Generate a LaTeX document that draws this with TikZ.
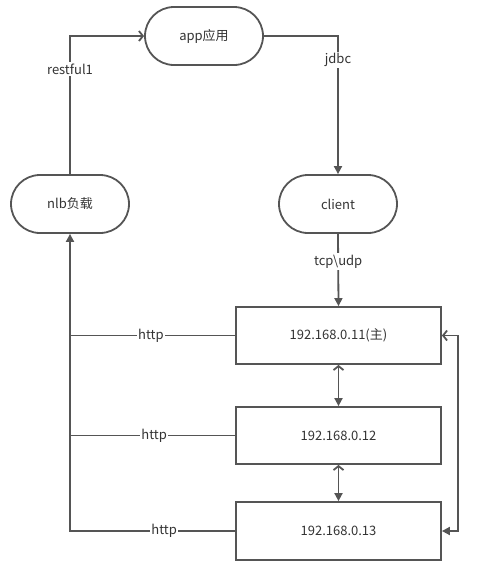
\documentclass[tikz,border=0pt]{standalone}
\usepackage{fontspec}
\setmainfont{Noto Sans CJK SC}
\usetikzlibrary{arrows.meta}
\definecolor{lc}{HTML}{555555}
\definecolor{tc}{HTML}{333333}
\newcommand{\fs}{\fontsize{13}{15}\selectfont}
\begin{document}
\begin{tikzpicture}[x=1pt,y=-1pt,
  line/.style={draw=lc, line width=1.8pt},
  pill/.style={draw=lc, line width=1.8pt, rounded corners=29pt, minimum width=118pt, minimum height=58pt, text=tc, font=\fs},
  box/.style={draw=lc, line width=1.8pt, minimum width=205pt, minimum height=57pt, text=tc, font=\fs},
  lab/.style={fill=white, text=tc, font=\fs, inner sep=1.5pt},
  ftip/.tip={Triangle[length=8pt,width=8pt]},
  otip/.tip={Straight Barb[length=4pt,width=10pt]}]
\useasboundingbox (0,0) rectangle (491,576);
\node[pill] (app) at (204,36) {app应用};
\node[pill] (nlb) at (70,204) {nlb负载};
\node[pill] (client) at (338,204) {client};
\node[box] (b1) at (338.5,335.5) {192.168.0.11(主)};
\node[box] (b2) at (338.5,435.5) {192.168.0.12};
\node[box, minimum height=58pt] (b3) at (338.5,531) {192.168.0.13};

\draw[line,-otip] (nlb.north) |- node[lab,pos=0.38]{restful1} (app.west);
\draw[line,-ftip] (app.east) -| node[lab,pos=0.586]{jdbc} (client.north);
\draw[line,-ftip] (client.south) -- node[lab,pos=0.38]{tcp\textbackslash udp} (b1.north);
\draw[line,otip-ftip] (b1.south) -- (b2.north);
\draw[line,otip-ftip] (b2.south) -- (b3.north);
\draw[line,otip-ftip] (b1.east) -- ([xshift=16pt]b1.east) |- (b3.east);
\draw[line] (b1.west) -- node[lab,pos=0.51]{http} (nlb.south |- b1.west);
\draw[line] (b2.west) -- node[lab,pos=0.49]{http} (nlb.south |- b2.west);
\coordinate (c3) at (nlb.south |- b3.west);
\draw[line,-ftip] (b3.west) -- node[lab,pos=0.43]{http} (c3) -- (nlb.south);
\end{tikzpicture}
\end{document}
